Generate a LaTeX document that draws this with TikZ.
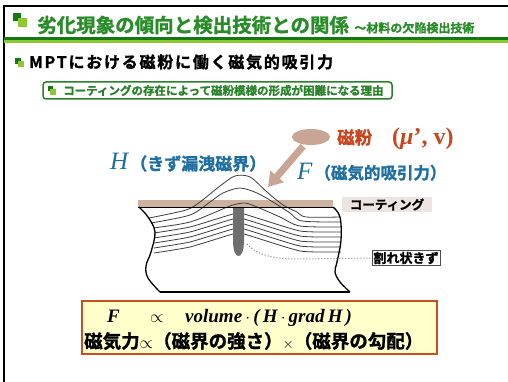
\documentclass[tikz,border=0pt]{standalone}
\usepackage{fontspec}
\usetikzlibrary{arrows.meta,shapes.geometric}
\newfontfamily\jpb{Noto Sans CJK JP Bold}[FakeBold=1.3]
\newfontfamily\jpbsp{Noto Sans CJK JP Bold}[LetterSpace=11,FakeBold=1.3]
\newfontfamily\tms{Liberation Serif}
\definecolor{dkgreen}{RGB}{20,120,20}
\definecolor{ltgreen}{RGB}{140,200,50}
\definecolor{titlegreen}{RGB}{40,140,40}
\definecolor{boxgreen}{RGB}{40,130,40}
\definecolor{hblue}{RGB}{30,110,160}
\definecolor{powdertan}{RGB}{200,165,148}
\definecolor{coattan}{RGB}{205,178,160}
\definecolor{coatlabel}{RGB}{236,228,224}
\definecolor{redorange}{RGB}{200,70,30}
\definecolor{crackgray}{RGB}{110,110,110}
\definecolor{fieldgray}{RGB}{60,60,60}
\definecolor{formfill}{RGB}{255,255,204}
\definecolor{formedge}{RGB}{200,80,30}
\tikzset{
  fieldline/.style={draw=fieldgray,line width=0.8pt},
  bodyline/.style={draw=black,line width=1.3pt},
  powderarrow/.style={draw=powdertan,line width=7pt,
    -{Triangle[length=14pt,width=17pt]},shorten <=2pt},
}
\newcommand{\fsz}[1]{\fontsize{#1}{#1}\selectfont}
\begin{document}
\begin{tikzpicture}[x=1pt,y=-1pt]
\useasboundingbox (0,0) rectangle (508,382);
\fill[white] (0,0) rectangle (508,382);
% frame
\draw[line width=2pt] (4,382) -- (4,6) -- (508,6);
% title
\fill[dkgreen] (13,13) rectangle (21,21);
\fill[ltgreen] (18,18) rectangle (27,27);
\node[anchor=west,inner sep=0,text=titlegreen,font=\jpb\fsz{19.5}] (title) at (37,25) {劣化現象の傾向と検出技術との関係};
\node[anchor=base west,inner sep=0,text=titlegreen,font=\jpb\fsz{12}] (subtitle) at ([xshift=5pt]title.base east) {～材料の欠陥検出技術};
\fill[dkgreen] (4,37.5) rectangle (508,40);
\fill[ltgreen] (4,40) rectangle (508,43);
% heading
\fill[dkgreen] (15,58) rectangle (21,64);
\fill[ltgreen] (18,61) rectangle (24,67);
\node[anchor=west,inner sep=0,font=\jpbsp\fsz{16}] (head) at (29,62) {MPTにおける磁粉に働く磁気的吸引力};
% framed caption
\draw[boxgreen,line width=1.5pt,rounded corners=3pt] (43,82) rectangle (392,99);
\fill[dkgreen] (48,86) rectangle (53,91);
\fill[ltgreen] (50,89) rectangle (56,95);
\node[anchor=west,inner sep=0,text=boxgreen,font=\jpb\fsz{11.5}] (why) at (63,90.5) {コーティングの存在によって磁粉模様の形成が困難になる理由};
% magnetic powder
\node[ellipse,fill=powdertan,minimum width=38pt,minimum height=16pt,inner sep=0] (powder) at (311,137) {};
\node[anchor=base west,inner sep=0,text=redorange,font=\jpb\fsz{17.5}] (powdertxt) at (337,144) {磁粉};
\node[anchor=base west,inner sep=0,text=redorange,font=\tms\bfseries\fsz{24}] (powderpar) at (392,145) {(\textit{μ}’, v)};
\coordinate (tip) at (268,187);
\draw[powderarrow] (powder) -- (tip);
% labels H and F
\node[anchor=base west,inner sep=0,text=hblue] (hlab) at (110,170) {{\tms\itshape\fsz{25}H}\hspace{2pt}{\jpb\fsz{17}（きず漏洩磁界）}};
\node[anchor=base west,inner sep=0,text=hblue] (flab) at (297,179) {{\tms\itshape\fsz{25}F}\hspace{2pt}{\jpb\fsz{16.5}（磁気的吸引力）}};
% coating
\fill[coattan] (138,200) rectangle (333,207);
\node[fill=coatlabel,inner sep=0,minimum width=90pt,minimum height=15pt,font=\jpb\fsz{12.5}] (coatlab) at (387,204.5) {コーティング};
% field lines
\draw[fieldline] plot[smooth,tension=0.5] coordinates {(149,218) (186,210) (200,202) (220,186) (235,176) (250,177) (267,192) (283,205) (297,212) (306,217) (340,217)};
\draw[fieldline] plot[smooth,tension=0.5] coordinates {(151,223) (190,215) (210,202) (223,193) (240,188) (257,193) (273,202) (290,213) (302,221) (341,222)};
\draw[fieldline] plot[smooth,tension=0.5] coordinates {(153,228) (190,222) (225,208) (233,205) (245,203) (257,207) (280,217) (300,226) (341,227)};
\foreach \k in {0,...,4}{
  \draw[fieldline] plot[smooth,tension=0.3] coordinates {(154,233+5*\k) (190,227+5*\k) (233,214+5*\k) (244,214+5*\k) (300,231+5*\k) (341,232+5*\k)};
}
% crack
\fill[crackgray] (233,207) -- (233,240) .. controls (233,252) and (236,256) .. (238.5,256) .. controls (241,256) and (244,252) .. (244,240) -- (244,207) -- cycle;
% body outline
\draw[line width=1pt] (138,207) -- (333,207);
\draw[bodyline] plot[smooth,tension=0.6] coordinates {(139,207) (148,217) (155,232) (151,252) (146,266) (148,278) (160,292)};
\draw[bodyline] (160,292) -- (350,292);
\draw[bodyline] plot[smooth,tension=0.6] coordinates {(350,292) (340,282) (335,272) (337,262) (341,240) (340,217) (333,207)};
% crack label
\node[draw=black!70,fill=white,inner sep=1.5pt,font=\jpb\fsz{13}] (crk) at (406,258) {割れ状きず};
\draw[gray,dotted,line width=1pt] (247,244) .. controls (258,256) and (275,259) .. (300,259) -- (crk.west);
% formula box
\node[draw=formedge,fill=formfill,line width=2pt,minimum width=355pt,minimum height=53pt,inner sep=0] (formula) at (259.5,327) {};
\node[anchor=base west,inner sep=0,font=\tms\bfseries\itshape\fsz{19}] (fF) at (107,322) {F};
\node[anchor=base west,inner sep=0,font=\fsz{19}] (fprop) at (150,322) {$\propto$};
\node[anchor=base west,inner sep=0,font=\tms\bfseries\itshape\fsz{19}] (fvol) at (185,322) {volume\,$\cdot$\,(\,H\,$\cdot$\,grad\,H\,)};
\node[anchor=base west,inner sep=0,font=\jpb\fsz{18.5}] (fjp) at (84,348) {磁気力{\fsz{16}$\propto$}（磁界の強さ）{\fsz{15}$\times$}（磁界の勾配）};
\end{tikzpicture}
\end{document}
